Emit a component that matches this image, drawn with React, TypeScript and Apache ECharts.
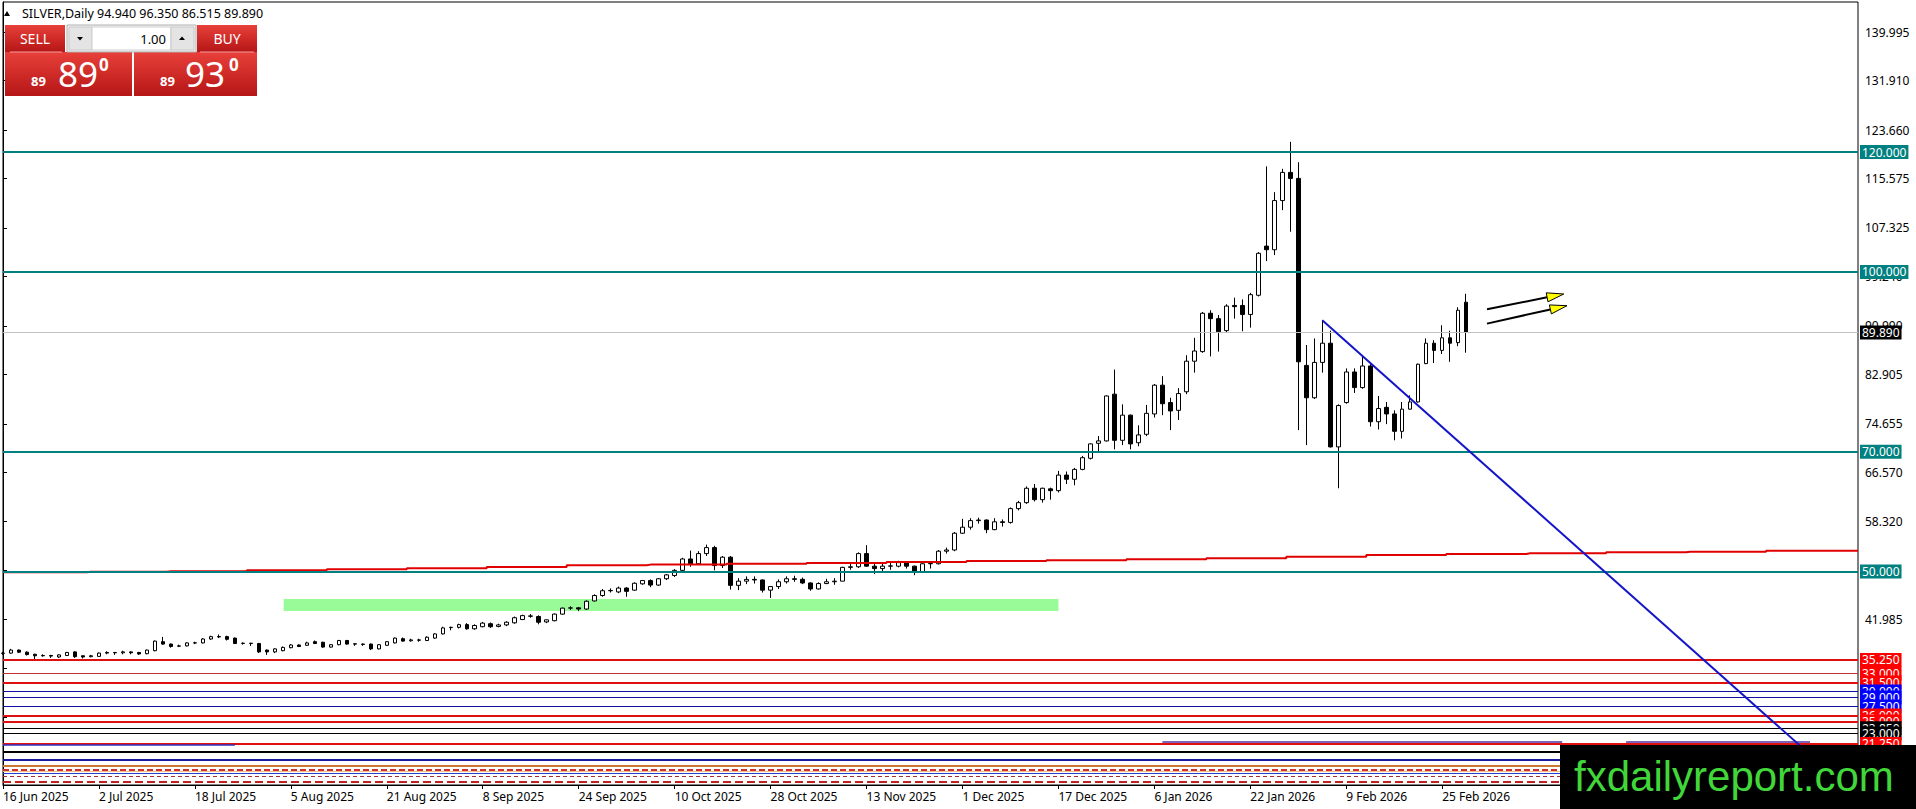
import React, { useEffect, useRef } from "react";
import * as echarts from "echarts";

// ---------- DATA ----------
const tickLabels = [
  "16 Jun 2025", "2 Jul 2025", "18 Jul 2025", "5 Aug 2025", "21 Aug 2025", "8 Sep 2025",
  "24 Sep 2025", "10 Oct 2025", "28 Oct 2025", "13 Nov 2025", "1 Dec 2025", "17 Dec 2025",
  "6 Jan 2026", "22 Jan 2026", "9 Feb 2026", "25 Feb 2026",
];

// daily bars: [open, close, low, high]
const ohlcJun = [
  [36.35, 36.4, 36.1, 36.6], [36.4, 36.9, 36.3, 37.1], [36.9, 36.55, 36.4, 37.0], [36.55, 36.15, 36.0, 36.7],
  [36.2, 35.95, 35.4, 36.3], [35.95, 36.0, 35.8, 36.2], [36.0, 35.9, 35.6, 36.1], [35.75, 36.1, 35.6, 36.2],
  [36.0, 36.5, 35.9, 36.6], [36.6, 35.8, 35.6, 36.7], [35.95, 35.75, 35.5, 36.0],
];
const ohlcJul = [
  [35.8, 35.95, 35.7, 36.1], [35.85, 36.4, 35.8, 36.5], [36.4, 36.5, 36.2, 36.7], [36.5, 36.45, 36.1, 36.55],
  [36.45, 36.6, 36.2, 36.8], [36.6, 36.45, 36.2, 36.7], [36.5, 36.25, 36.1, 36.6], [36.3, 36.9, 36.2, 37.0],
  [36.8, 38.4, 36.7, 38.5], [38.3, 37.9, 37.8, 39.1], [37.9, 37.5, 37.3, 38.0], [37.55, 37.6, 37.4, 37.8],
  [37.6, 38.1, 37.5, 38.2], [38.08, 38.12, 37.9, 38.3], [38.1, 38.75, 38.0, 38.9], [38.75, 39.15, 38.6, 39.3],
  [39.15, 39.1, 38.9, 39.5], [39.15, 38.7, 38.5, 39.3], [38.9, 38.0, 37.9, 39.0], [38.0, 38.05, 37.8, 38.2],
  [38.05, 38.0, 37.6, 38.1], [38.0, 36.6, 36.4, 38.1], [36.9, 36.6, 36.1, 37.0],
];
const ohlcAug = [
  [36.6, 37.1, 36.4, 37.2], [36.8, 37.35, 36.7, 37.5], [37.3, 37.75, 37.2, 37.9], [37.75, 37.5, 37.4, 37.85],
  [37.7, 38.1, 37.6, 38.3], [38.3, 38.0, 37.9, 38.5], [38.2, 37.4, 37.3, 38.3], [37.4, 37.8, 37.3, 37.9],
  [37.8, 38.5, 37.7, 38.6], [38.5, 37.9, 37.8, 38.6], [37.95, 37.9, 37.6, 38.0], [37.9, 37.85, 37.6, 38.0],
  [37.9, 37.1, 36.9, 38.0], [37.1, 37.8, 37.0, 37.9], [37.7, 38.3, 37.6, 38.4], [38.1, 38.9, 38.0, 39.0],
  [38.8, 38.4, 38.3, 39.0], [38.45, 38.6, 38.3, 38.8], [38.6, 38.55, 38.3, 38.8], [38.5, 39.05, 38.4, 39.2],
  [38.9, 39.6, 38.8, 39.7],
];
const ohlcSep = [
  [39.6, 40.6, 39.5, 40.8], [40.7, 40.65, 40.2, 40.8], [40.7, 41.15, 40.5, 41.3], [41.15, 40.45, 40.3, 41.4],
  [40.45, 41.0, 40.3, 41.2], [40.8, 41.4, 40.7, 41.6], [41.3, 40.8, 40.6, 41.5], [40.85, 41.1, 40.7, 41.3],
  [41.1, 41.55, 40.9, 41.7], [41.45, 42.3, 41.3, 42.5], [42.0, 42.65, 41.9, 42.8], [42.6, 42.55, 42.3, 42.9],
  [42.5, 41.55, 41.2, 42.7], [41.6, 41.95, 41.4, 42.0], [41.8, 42.9, 41.7, 43.0], [42.9, 43.9, 42.8, 44.0],
  [43.9, 43.95, 43.6, 44.2], [43.95, 43.75, 43.4, 44.1], [43.75, 45.05, 43.6, 45.2], [45.1, 46.0, 45.0, 46.2],
  [46.0, 46.8, 45.8, 47.1], [46.8, 46.85, 46.5, 47.2],
];
const ohlcOct = [
  [46.6, 47.25, 46.4, 47.5], [47.25, 46.7, 45.8, 47.4], [46.9, 48.05, 46.8, 48.2], [47.95, 48.5, 47.8, 48.6],
  [48.5, 47.75, 47.4, 48.7], [47.75, 48.8, 47.6, 48.9], [48.8, 49.45, 48.6, 49.6], [49.35, 50.2, 49.1, 50.4],
  [50.2, 52.1, 50.1, 52.3], [52.1, 51.3, 50.8, 53.5], [51.3, 53.0, 51.1, 53.4], [53.0, 54.0, 52.6, 54.5],
  [54.0, 51.0, 50.2, 54.3], [51.0, 52.4, 50.6, 52.6], [52.4, 47.7, 47.0, 52.6], [47.7, 48.4, 46.9, 48.9],
  [48.4, 48.7, 47.9, 49.2], [48.7, 48.6, 48.0, 49.2], [48.6, 46.9, 46.5, 48.7], [46.9, 47.5, 45.6, 47.6],
  [47.5, 48.3, 47.1, 48.7], [48.3, 48.8, 48.0, 49.2], [48.8, 48.7, 48.3, 49.3],
];
const ohlcNov = [
  [48.7, 48.1, 47.9, 49.0], [48.1, 47.1, 46.8, 48.2], [47.1, 48.0, 47.0, 48.2], [48.0, 48.3, 47.9, 48.8],
  [48.3, 48.4, 47.8, 48.9], [48.4, 50.7, 48.4, 50.8], [50.7, 50.8, 50.3, 51.4], [50.8, 53.0, 50.6, 53.2],
  [53.0, 50.9, 50.8, 54.4], [50.9, 50.5, 49.6, 51.4], [50.5, 50.9, 50.0, 51.3], [50.9, 50.95, 50.3, 51.6],
  [50.9, 51.5, 50.7, 51.8], [51.5, 50.9, 50.5, 51.7], [50.9, 50.0, 49.4, 51.0], [50.0, 51.3, 49.8, 51.4],
  [51.3, 51.35, 50.5, 51.6], [51.3, 53.4, 51.2, 53.6], [53.4, 53.6, 53.0, 54.0], [53.6, 56.4, 53.4, 56.6],
];
const ohlcDec = [
  [56.4, 57.4, 56.3, 58.8], [57.4, 58.5, 57.0, 58.9], [58.5, 58.6, 58.0, 59.0], [58.6, 57.0, 56.4, 58.7],
  [57.0, 58.3, 56.9, 58.9], [58.3, 58.2, 57.5, 58.7], [58.2, 60.5, 58.0, 60.7], [60.5, 61.5, 60.2, 61.8],
  [61.5, 63.9, 61.3, 64.2], [63.9, 62.0, 61.7, 64.6], [62.0, 63.9, 61.5, 64.0], [63.8, 63.5, 62.0, 64.0],
  [63.5, 66.1, 63.2, 66.8], [66.1, 65.4, 64.6, 66.7], [65.4, 67.05, 64.4, 67.3], [67.05, 69.0, 66.9, 69.3],
  [68.9, 71.3, 68.7, 71.4], [71.4, 71.8, 70.1, 72.6], [71.8, 79.3, 71.7, 79.4], [79.6, 71.9, 70.4, 83.7],
  [71.9, 76.1, 71.1, 77.9], [76.1, 71.3, 70.4, 76.2],
];
const ohlcJan = [
  [71.5, 72.8, 70.9, 74.4], [72.9, 76.4, 72.6, 77.8], [76.3, 81.1, 75.7, 81.3], [81.1, 78.0, 76.1, 82.6],
  [78.2, 76.8, 73.6, 79.0], [76.9, 79.7, 75.3, 80.6], [80.0, 85.1, 79.6, 86.1], [85.1, 86.8, 83.2, 89.0],
  [86.7, 93.1, 86.5, 93.3], [93.1, 92.2, 85.9, 93.6], [92.2, 90.0, 86.7, 92.8], [90.2, 94.3, 89.9, 94.6],
  [94.4, 94.2, 92.2, 95.7], [94.4, 92.9, 90.1, 95.4], [92.9, 96.2, 90.7, 96.5], [96.1, 103.1, 95.9, 103.3],
  [104.3, 103.7, 101.8, 117.6], [103.7, 111.9, 102.8, 113.3], [111.9, 116.6, 110.3, 117.2],
  [116.6, 115.6, 106.7, 121.7], [115.6, 85.0, 73.6, 118.3],
];
const ohlcFeb = [
  [84.4, 79.0, 71.1, 87.8], [79.0, 84.9, 78.8, 88.9], [84.9, 88.1, 83.2, 91.9], [88.1, 70.8, 70.7, 90.2],
  [70.8, 77.7, 63.9, 77.9], [78.2, 83.3, 78.0, 83.9], [83.3, 80.7, 79.8, 83.9], [80.7, 84.3, 80.5, 86.1],
  [84.3, 75.0, 74.2, 84.6], [75.0, 77.2, 73.7, 79.3], [77.4, 76.3, 74.6, 78.3], [76.3, 73.4, 71.9, 76.9],
  [73.4, 77.1, 72.2, 78.3], [77.1, 78.3, 77.0, 79.4], [78.3, 84.6, 78.2, 84.7], [84.7, 88.1, 84.6, 88.9],
  [88.1, 86.9, 84.8, 88.6], [86.9, 89.0, 86.3, 91.1], [89.0, 88.1, 85.0, 90.2], [88.2, 93.6, 87.6, 94.1],
];
const ohlcMar = [[94.94, 89.89, 86.515, 96.35]];

const emptySlots = 49; // chart shift area on the right

// y-axis ticks (MetaTrader scale); labels only where they are not hidden by level boxes
const priceTicks = [
  17.565, 25.65, 33.9, 41.985, 50.235, 58.32, 66.57, 74.655, 82.905, 90.99,
  99.24, 107.325, 115.575, 123.66, 131.91, 139.995,
];
const priceLabels = [
  41.985, 58.32, 66.57, 74.655, 82.905, 90.99, 99.24, 107.325, 115.575, 123.66, 131.91, 139.995,
];

// stepped red moving average, one value per 10-bar block
const maBlocks = [
  49.88, 49.99, 50.05, 50.21, 50.38, 50.54, 50.77, 51.05, 51.16, 51.3, 51.45, 51.6,
  51.75, 51.9, 52.05, 52.22, 52.49, 52.77, 52.94, 53.05, 53.22, 53.32, 53.49, 53.49,
];

// horizontal levels
const levelValues = [
  120, 100, 89.89, 70, 50, 35.25, 33, 31.5, 30, 29, 27.5, 26, 25, 23.85, 23, 21.25,
  20, 18.68, 17.62, 17.0, 16.73, 16.35, 15.79, 14.94,
];
const levelKinds = [
  "teal", "teal", "bid", "teal", "teal", "red", "redThin", "red", "blue", "blue", "blue", "red", "red",
  "black", "black", "red", "blackThick", "navy", "tan", "redDash", "peach", "blueThin", "brownDash", "redDash2",
];

// short partial segments [x1, y1, x2, y2]
const partialSegments = [
  [0, 21.12, 29, 21.12],
  [145, 21.6, 195, 21.6],
  [203, 21.6, 226, 21.6],
];

const zoneBox = [35.1, 45.42, 132, 43.42];
const trendLine = [165, 91.94, 230, 14.72];
const arrowSegments = [
  [185.6, 93.76, 195.2, 96.31],
  [185.6, 91.37, 195.6, 94.36],
];

const bidParts = ["89", "89", "0"];
const askParts = ["89", "93", "0"];
const lotSize = "1.00";

// ---------- STYLES ----------
const FF = '"Noto Sans", "DejaVu Sans", sans-serif';
const kindStyle: Record<string, any> = {
  teal: { color: "#008080", width: 2, type: "solid", bg: "#008080" },
  bid: { color: "#C0C0C0", width: 1, type: "solid", bg: "#000000" },
  red: { color: "#E01010", width: 2, type: "solid", bg: "#FF0000" },
  redThin: { color: "#C03030", width: 1, type: "solid", bg: "#FF0000" },
  blue: { color: "#1010A0", width: 1, type: "solid", bg: "#0000FF" },
  black: { color: "#000000", width: 1, type: "solid", bg: "#000000" },
  blackThick: { color: "#000000", width: 2, type: "solid", bg: null },
  navy: { color: "#1A1AA0", width: 2, type: "solid", bg: null },
  tan: { color: "#C87830", width: 2, type: "solid", bg: null },
  redDash: { color: "#D03030", width: 2, type: [6, 3], bg: null },
  peach: { color: "#F0C080", width: 1, type: "solid", bg: null },
  blueThin: { color: "#2040D0", width: 1, type: "solid", bg: null },
  brownDash: { color: "#A03030", width: 1, type: [4, 3], bg: null },
  redDash2: { color: "#C02020", width: 2, type: [8, 4], bg: null },
};

function redGrad() {
  return new echarts.graphic.LinearGradient(0, 0, 0, 1, [
    { offset: 0, color: "#E8403A" },
    { offset: 1, color: "#B51616" },
  ]);
}

export default function App() {
  const ref = useRef<HTMLDivElement>(null);

  useEffect(() => {
    document.body.style.margin = "0";
    if (!ref.current) return;
    const chart = echarts.init(ref.current, undefined, { renderer: "svg" });

    const bars = [
      ...ohlcJun, ...ohlcJul, ...ohlcAug, ...ohlcSep, ...ohlcOct,
      ...ohlcNov, ...ohlcDec, ...ohlcJan, ...ohlcFeb, ...ohlcMar,
    ];
    const total = bars.length + emptySlots;
    const lastIdx = total - 1;
    const categories = Array.from({ length: total }, (_, i) => String(i));
    const maData = Array.from({ length: total }, (_, i) => [
      i,
      maBlocks[Math.min(maBlocks.length - 1, Math.max(0, Math.ceil(i / 10) - 1))],
    ]);
    const showTick = (idx: number) => idx % 12 === 0 && idx < bars.length;

    const levelLines: any[] = levelValues.map((v, i) => {
      const s = kindStyle[levelKinds[i]];
      return {
        yAxis: v,
        lineStyle: { color: s.color, width: s.width, type: s.type },
        label: s.bg
          ? {
              show: true,
              position: "end",
              distance: 2,
              formatter: v.toFixed(3),
              backgroundColor: s.bg,
              color: "#fff",
              fontSize: 12,
              fontFamily: FF,
              lineHeight: 13,
              padding: [1, 2, 0, 2],
            }
          : { show: false },
      };
    });
    partialSegments.forEach((p, i) => {
      levelLines.push([
        { coord: [p[0], p[1]], lineStyle: { color: i === 0 ? "#3030C0" : "#5030A0", width: 1.5, type: "solid" }, label: { show: false } },
        { coord: [p[2], p[3]] },
      ]);
    });
    levelLines.push([
      { coord: [trendLine[0], trendLine[1]], lineStyle: { color: "#1515C8", width: 2, type: "solid" }, label: { show: false } },
      { coord: [trendLine[2], trendLine[3]] },
    ]);

    const title = `${ohlcMar[0][0].toFixed(3)} ${ohlcMar[0][3].toFixed(3)} ${ohlcMar[0][2].toFixed(3)} ${ohlcMar[0][1].toFixed(3)}`;

    const graphics: any[] = [
      // title
      { type: "polygon", shape: { points: [[4, 16], [10, 16], [7, 11]] }, style: { fill: "#000" }, z: 50 },
      { type: "text", x: 22, y: 13, style: { text: "SILVER,Daily", fill: "#000", fontSize: 12.5, fontFamily: FF, verticalAlign: "middle" }, z: 50 },
      { type: "text", x: 97, y: 13, style: { text: title, fill: "#000", fontSize: 12.5, fontFamily: FF, verticalAlign: "middle" }, z: 50 },
      // sell / buy blocks
      { type: "rect", shape: { x: 5, y: 25, width: 60, height: 27 }, style: { fill: redGrad() }, z: 50 },
      { type: "rect", shape: { x: 197, y: 25, width: 60, height: 27 }, style: { fill: redGrad() }, z: 50 },
      { type: "rect", shape: { x: 5, y: 52, width: 127, height: 44 }, style: { fill: redGrad() }, z: 50 },
      { type: "rect", shape: { x: 134, y: 52, width: 123, height: 44 }, style: { fill: redGrad() }, z: 50 },
      { type: "line", shape: { x1: 10, y1: 52, x2: 62, y2: 52 }, style: { stroke: "#F4A0A0", lineWidth: 1 }, z: 51 },
      { type: "line", shape: { x1: 200, y1: 52, x2: 254, y2: 52 }, style: { stroke: "#F4A0A0", lineWidth: 1 }, z: 51 },
      { type: "text", x: 35, y: 38.5, style: { text: "SELL", fill: "#fff", fontSize: 14, fontFamily: FF, align: "center", verticalAlign: "middle" }, z: 52 },
      { type: "text", x: 227, y: 38.5, style: { text: "BUY", fill: "#fff", fontSize: 14, fontFamily: FF, align: "center", verticalAlign: "middle" }, z: 52 },
      // spin control
      { type: "rect", shape: { x: 67, y: 25, width: 129, height: 27 }, style: { fill: "#F2F2F2", stroke: "#B0B0B0", lineWidth: 1 }, z: 50 },
      { type: "rect", shape: { x: 69, y: 27, width: 23, height: 23 }, style: { fill: "#E4E4E4", stroke: "#C8C8C8", lineWidth: 1 }, z: 51 },
      { type: "rect", shape: { x: 92, y: 27, width: 79, height: 23 }, style: { fill: "#FFFFFF", stroke: "#D0D0D0", lineWidth: 1 }, z: 51 },
      { type: "rect", shape: { x: 171, y: 27, width: 23, height: 23 }, style: { fill: "#E4E4E4", stroke: "#C8C8C8", lineWidth: 1 }, z: 51 },
      { type: "polygon", shape: { points: [[77, 37], [83, 37], [80, 40.5]] }, style: { fill: "#000" }, z: 52 },
      { type: "polygon", shape: { points: [[179, 40], [185, 40], [182, 36.5]] }, style: { fill: "#000" }, z: 52 },
      { type: "text", x: 166, y: 38.5, style: { text: lotSize, fill: "#000", fontSize: 13, fontFamily: FF, align: "right", verticalAlign: "middle" }, z: 52 },
      // prices
      { type: "text", x: 31, y: 87, style: { text: bidParts[0], fill: "#fff", fontSize: 13, fontWeight: "bold", fontFamily: FF, verticalAlign: "bottom" }, z: 52 },
      { type: "text", x: 58, y: 91, style: { text: bidParts[1], fill: "#fff", fontSize: 35, fontFamily: FF, verticalAlign: "bottom" }, z: 52 },
      { type: "text", x: 99, y: 56, style: { text: bidParts[2], fill: "#fff", fontSize: 17, fontWeight: "bold", fontFamily: FF, verticalAlign: "top" }, z: 52 },
      { type: "text", x: 160, y: 87, style: { text: askParts[0], fill: "#fff", fontSize: 13, fontWeight: "bold", fontFamily: FF, verticalAlign: "bottom" }, z: 52 },
      { type: "text", x: 185, y: 91, style: { text: askParts[1], fill: "#fff", fontSize: 35, fontFamily: FF, verticalAlign: "bottom" }, z: 52 },
      { type: "text", x: 229, y: 56, style: { text: askParts[2], fill: "#fff", fontSize: 17, fontWeight: "bold", fontFamily: FF, verticalAlign: "top" }, z: 52 },
      // logo
      { type: "rect", shape: { x: 1560, y: 745, width: 356, height: 64 }, style: { fill: "#000" }, z: 100 },
      { type: "text", x: 1574, y: 776, style: { text: "fxdailyreport.com", fill: "#41D63A", fontSize: 42, fontFamily: '"Liberation Sans", Arial, sans-serif', verticalAlign: "middle" }, z: 101 },
    ];

    chart.setOption({
      animation: false,
      backgroundColor: "#ffffff",
      grid: { left: 2, top: 2, right: 58, bottom: 24, show: true, borderColor: "#000", borderWidth: 1, backgroundColor: "transparent" },
      xAxis: [
        {
          type: "category",
          data: categories,
          boundaryGap: false,
          axisLine: { show: true, lineStyle: { color: "#000", width: 1 } },
          axisTick: { show: true, interval: showTick, length: 4, lineStyle: { color: "#000" } },
          axisLabel: {
            interval: showTick,
            formatter: (_v: string, idx: number) => tickLabels[idx / 12] ?? "",
            align: "left",
            margin: 5,
            color: "#000",
            fontSize: 12,
            fontFamily: FF,
          },
          splitLine: { show: false },
        },
        { type: "value", min: 0, max: lastIdx, show: false },
      ],
      yAxis: {
        type: "value",
        position: "right",
        min: 14.39,
        max: 145.03,
        scale: true,
        splitLine: { show: false },
        axisLine: { show: true, lineStyle: { color: "#000", width: 1 } },
        axisTick: { show: true, length: 4, lineStyle: { color: "#000" }, customValues: priceTicks },
        axisLabel: {
          customValues: priceLabels,
          formatter: (v: number) => v.toFixed(3),
          color: "#000",
          fontSize: 12,
          fontFamily: FF,
          margin: 7,
        },
      },
      graphic: graphics,
      series: [
        {
          type: "candlestick",
          xAxisIndex: 0,
          data: bars,
          barWidth: 4,
          z: 2,
          itemStyle: {
            color: "#ffffff",
            color0: "#000000",
            borderColor: "#000000",
            borderColor0: "#000000",
            borderColorDoji: "#000000",
            borderWidth: 1,
          },
          emphasis: { disabled: true },
          silent: true,
        },
        {
          type: "line",
          xAxisIndex: 1,
          data: maData,
          step: "middle",
          showSymbol: false,
          symbol: "none",
          clip: false,
          z: 3,
          silent: true,
          lineStyle: { color: "#E00000", width: 2 },
          markArea: {
            silent: true,
            itemStyle: { color: "#98FB98" },
            data: [[{ coord: [zoneBox[0], zoneBox[1]] }, { coord: [zoneBox[2], zoneBox[3]] }]],
          },
          markLine: {
            silent: true,
            symbol: ["none", "none"],
            animation: false,
            data: levelLines,
          },
        },
        {
          type: "custom",
          xAxisIndex: 1,
          z: 6,
          silent: true,
          data: arrowSegments,
          encode: { x: [0, 2], y: [1, 3] },
          renderItem: (_p: any, api: any) => {
            const p1 = api.coord([api.value(0), api.value(1)]);
            const p2 = api.coord([api.value(2), api.value(3)]);
            const dx = p2[0] - p1[0];
            const dy = p2[1] - p1[1];
            const len = Math.hypot(dx, dy) || 1;
            const ux = dx / len;
            const uy = dy / len;
            const hl = 17;
            const hw = 4.6;
            const bx = p2[0] - ux * hl;
            const by = p2[1] - uy * hl;
            const px = -uy;
            const py = ux;
            return {
              type: "group",
              children: [
                { type: "line", shape: { x1: p1[0], y1: p1[1], x2: bx, y2: by }, style: { stroke: "#000", lineWidth: 2 } },
                {
                  type: "polygon",
                  shape: { points: [[p2[0], p2[1]], [bx + px * hw, by + py * hw], [bx - px * hw, by - py * hw]] },
                  style: { fill: "#FFFF00", stroke: "#000", lineWidth: 1 },
                },
              ],
            };
          },
        },
      ],
    });

    return () => chart.dispose();
  }, []);

  return <div ref={ref} style={{ width: 1916, height: 809, background: "#fff" }} />;
}
